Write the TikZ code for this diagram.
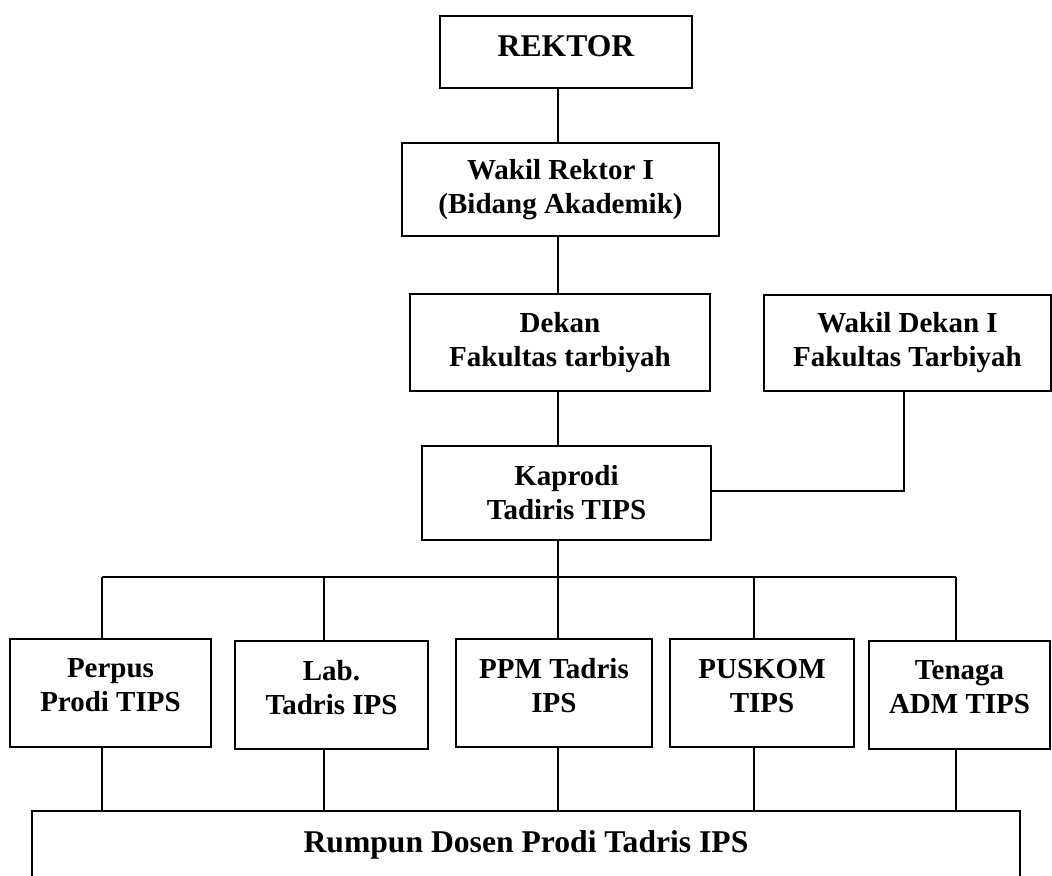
\documentclass[tikz,border=0pt]{standalone}
\usepackage{fontspec}
\setmainfont{Liberation Serif}
\newcommand{\boxpad}[1]{\rule[-#1]{0pt}{#1}}

\begin{document}
\begin{tikzpicture}[
	kotak/.style={rectangle, draw, line width=1.1pt, align=center, inner sep=0pt, font=\fontsize{16.5}{19.35}\selectfont\bfseries},
	kotakbesar/.style={kotak, font=\fontsize{18}{21}\selectfont\bfseries},
	garis/.style={line width=1.1pt}]
		\useasboundingbox (0, 0) rectangle (21.04, 17.52);
		\clip (0, 0) rectangle (21.04, 17.52);
		\node(REKTOR) at (11.32, 16.48)[kotakbesar, minimum width=5.04cm, minimum height=1.44cm]{REKTOR\boxpad{0.22cm}};
		\node(WR1) at (11.21, 13.73)[kotak, minimum width=6.34cm, minimum height=1.86cm]{Wakil Rektor I\\(Bidang Akademik)};
		\node(DEKAN) at (11.2, 10.67)[kotak, minimum width=6cm, minimum height=1.94cm]{Dekan\\Fakultas tarbiyah};
		\node(WD1) at (18.15, 10.66)[kotak, minimum width=5.74cm, minimum height=1.92cm]{Wakil Dekan I\\Fakultas Tarbiyah};
		\node(KAPRODI) at (11.33, 7.66)[kotak, minimum width=5.78cm, minimum height=1.88cm]{Kaprodi\\Tadiris TIPS};
		\node(PERPUS) at (2.21, 3.66)[kotak, minimum width=4.02cm, minimum height=2.16cm]{Perpus\\Prodi TIPS\boxpad{0.3cm}};
		\node(LAB) at (6.63, 3.62)[kotak, minimum width=3.86cm, minimum height=2.16cm]{Lab.\\Tadris IPS\boxpad{0.3cm}};
		\node(PPM) at (11.08, 3.66)[kotak, minimum width=3.92cm, minimum height=2.16cm]{PPM Tadris\\IPS\boxpad{0.3cm}};
		\node(PUSKOM) at (15.24, 3.66)[kotak, minimum width=3.68cm, minimum height=2.16cm]{PUSKOM\\TIPS\boxpad{0.3cm}};
		\node(TENAGA) at (19.19, 3.62)[kotak, minimum width=3.62cm, minimum height=2.16cm]{Tenaga\\ADM TIPS\boxpad{0.3cm}};
		\node(RUMPUN) at (10.52, 0.62)[kotakbesar, minimum width=19.76cm, minimum height=1.36cm]{Rumpun Dosen Prodi Tadris IPS};
		\coordinate(B1) at (2.04, 5.98);
		\coordinate(B2) at (6.48, 5.98);
		\coordinate(B3) at (11.16, 5.98);
		\coordinate(B4) at (15.08, 5.98);
		\coordinate(B5) at (19.12, 5.98);
		\coordinate(SIDE) at (18.08, 7.70);
		\draw[garis] (B3 |- REKTOR.south) -- (B3 |- WR1.north);
		\draw[garis] (B3 |- WR1.south) -- (B3 |- DEKAN.north);
		\draw[garis] (B3 |- DEKAN.south) -- (B3 |- KAPRODI.north);
		\draw[garis] (B3 |- KAPRODI.south) -- (B3);
		\draw[garis] (KAPRODI.east |- SIDE) -- (SIDE) -- (SIDE |- WD1.south);
		\draw[garis, line width=1.3pt] (B1) -- (B5);
		\draw[garis] (B1) -- (B1 |- PERPUS.north);
		\draw[garis] (B2) -- (B2 |- LAB.north);
		\draw[garis] (B3) -- (B3 |- PPM.north);
		\draw[garis] (B4) -- (B4 |- PUSKOM.north);
		\draw[garis] (B5) -- (B5 |- TENAGA.north);
		\draw[garis] (B1 |- PERPUS.south) -- (B1 |- RUMPUN.north);
		\draw[garis] (B2 |- LAB.south) -- (B2 |- RUMPUN.north);
		\draw[garis] (B3 |- PPM.south) -- (B3 |- RUMPUN.north);
		\draw[garis] (B4 |- PUSKOM.south) -- (B4 |- RUMPUN.north);
		\draw[garis] (B5 |- TENAGA.south) -- (B5 |- RUMPUN.north);
	\end{tikzpicture}
\end{document}
